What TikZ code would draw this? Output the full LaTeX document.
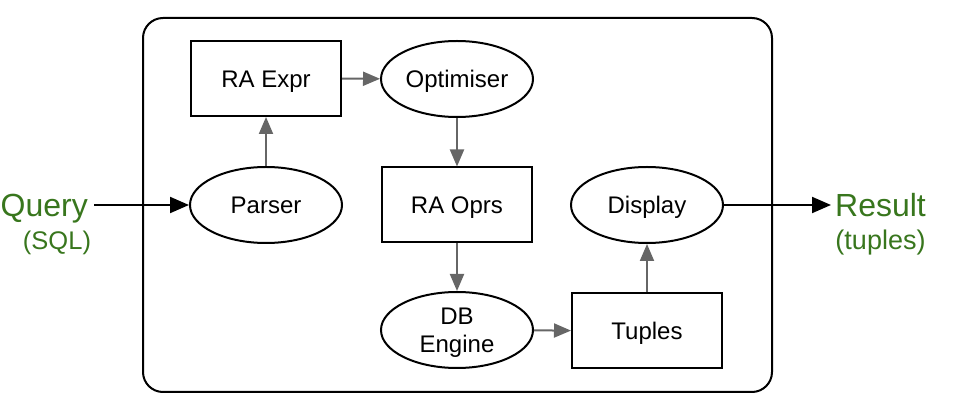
\documentclass[tikz,border=0pt]{standalone}
\usepackage{fontspec}
\setmainfont{Liberation Sans}
\usetikzlibrary{arrows.meta,shapes.geometric}
\definecolor{qgreen}{HTML}{38761D}
\definecolor{agray}{HTML}{666666}
\begin{document}
\begin{tikzpicture}[x=1pt,y=-1pt,
  basenode/.style={draw=black,line width=2pt,inner sep=0pt,font=\fontsize{24}{28}\selectfont,align=center},
  onetext/.style={text height=17.5pt,text depth=0pt},
  boxnode/.style={basenode,minimum width=150pt,minimum height=75pt},
  ellnode/.style={basenode,ellipse,minimum width=152pt,minimum height=76pt},
  flow/.style={draw=agray,line width=2pt,-{Triangle[length=17pt,width=14pt]}},
  ioflow/.style={draw=black,line width=2pt,-{Triangle[length=19pt,width=16pt]}},
  iolabel/.style={text=qgreen,align=center,inner sep=0pt}]
\useasboundingbox (0,0) rectangle (954,411);
\node[draw=black,line width=2pt,rounded corners=20pt,minimum width=629pt,minimum height=374pt,inner sep=0pt] (frame) at (457.5,205) {};
\node[boxnode,onetext] (raexpr) at (266,78.5) {RA Expr};
\node[ellnode,onetext] (opt) at (457,79) {Optimiser};
\node[ellnode,onetext] (parser) at (266,205) {Parser};
\node[boxnode,onetext] (raoprs) at (457,205) {RA Oprs};
\node[ellnode,onetext] (display) at (647,205) {Display};
\node[ellnode,text depth=0pt] (db) at (457,330) {DB\\Engine};
\node[boxnode,onetext] (tuples) at (647,331) {Tuples};
\node[iolabel,font=\fontsize{32}{36}\selectfont,anchor=base east] (query) at (88,217) {Query};
\node[iolabel,font=\fontsize{25.5}{28}\selectfont] (sql) at (57,243) {(SQL)};
\node[iolabel,font=\fontsize{32}{36}\selectfont,anchor=base west] (result) at (835,217) {Result};
\node[iolabel,font=\fontsize{27}{30}\selectfont] (tup) at (880.5,243) {(tuples)};
\draw[ioflow,shorten <=6pt] (query.east |- parser.west) -- (parser.west);
\draw[ioflow,shorten >=4pt] (display.east) -- (result.west |- display.east);
\draw[flow] (parser) -- (raexpr);
\draw[flow] (raexpr) -- (opt);
\draw[flow] (opt) -- (raoprs);
\draw[flow] (raoprs) -- (db);
\draw[flow] (db) -- (tuples);
\draw[flow] (tuples) -- (display);
\end{tikzpicture}
\end{document}
